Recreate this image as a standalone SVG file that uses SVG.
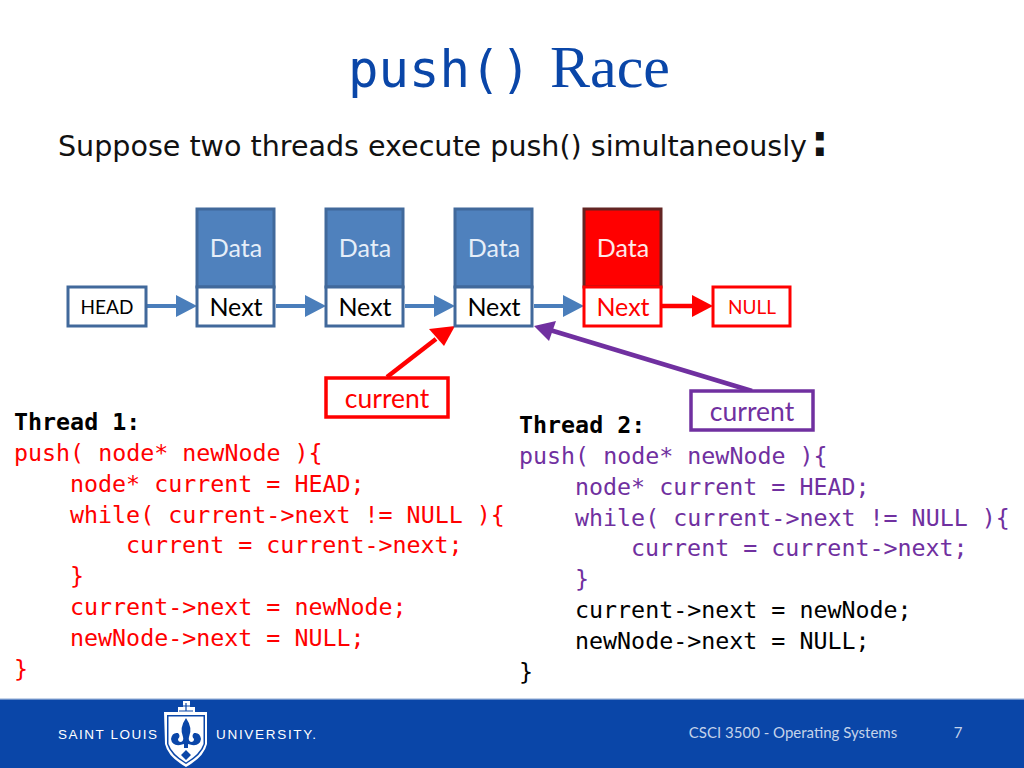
<svg xmlns="http://www.w3.org/2000/svg" width="1024" height="768" viewBox="0 0 1024 768">
<style>
.c{font-family:Lato,"Open Sans",sans-serif;text-anchor:middle}
.d{font-size:25px;fill:#e6eef8}
.n{font-size:25px;fill:#000}
.code{font-family:"DejaVu Sans Mono","Liberation Mono",monospace;font-size:23.3px}
.bl{fill:#4f81bd;stroke:#41699b;stroke-width:3}
.wh{fill:#fff;stroke:#41699b;stroke-width:3}
.re{fill:#fff;stroke:#f00;stroke-width:3}
.lb{stroke:#4a7ebb;stroke-width:4;fill:none}
</style>
<rect width="1024" height="768" fill="#fff"/>
<text x="348" y="87" font-family="'DejaVu Sans Mono',monospace" font-size="51" fill="#0a46a8" textLength="183" lengthAdjust="spacingAndGlyphs">push()</text>
<text x="550" y="87" font-family="'Liberation Serif',serif" font-size="60" fill="#0a46a8">Race</text>
<text x="58" y="156" font-family="'DejaVu Sans',sans-serif" font-size="28" fill="#111" textLength="749" lengthAdjust="spacingAndGlyphs">Suppose two threads execute push() simultaneously</text>
<text x="811" y="156" font-family="'DejaVu Sans',sans-serif" font-size="44" font-weight="bold" fill="#111">:</text>
<g id="connectors">
<path class="lb" d="M147 306H178M276 306H307M405 306H436M534 306H565"/>
<path fill="#4a7ebb" d="M176 295L197 306L176 317ZM305 295L326 306L305 317ZM434 295L455 306L434 317ZM563 295L584 306L563 317Z"/>
<path d="M662 306H694" stroke="#f00" stroke-width="4.5"/>
<path fill="#f00" d="M692 295L713 306L692 317Z"/>
<path d="M387 377L436 339" stroke="#f00" stroke-width="4.5"/>
<path fill="#f00" d="M455 326L444 346L429 329Z"/>
<path d="M752 391L550 330" stroke="#7030a0" stroke-width="4.5"/>
<path fill="#7030a0" d="M534 326L556 321L549 341Z"/>
</g>
<g id="head"><rect class="wh" x="68" y="287" width="78" height="39"/><text class="c" x="107" y="314" font-size="19" fill="#000">HEAD</text></g>
<g id="node1"><rect class="bl" x="197" y="209" width="77" height="78"/><rect class="wh" x="197" y="287" width="77" height="39"/><text class="c d" x="236" y="257">Data</text><text class="c n" x="236" y="316">Next</text></g>
<g id="node2"><rect class="bl" x="326" y="209" width="77" height="78"/><rect class="wh" x="326" y="287" width="77" height="39"/><text class="c d" x="365" y="257">Data</text><text class="c n" x="365" y="316">Next</text></g>
<g id="node3"><rect class="bl" x="455" y="209" width="77" height="78"/><rect class="wh" x="455" y="287" width="77" height="39"/><text class="c d" x="494" y="257">Data</text><text class="c n" x="494" y="316">Next</text></g>
<g id="node4"><rect x="584" y="209" width="77" height="78" fill="#f00" stroke="#632523" stroke-width="3"/><rect class="re" x="584" y="287" width="77" height="39"/><text class="c d" x="623" y="257" style="fill:#fde9e9">Data</text><text class="c n" x="623" y="316" style="fill:#f00">Next</text></g>
<g id="null"><rect class="re" x="713" y="287" width="77" height="39"/><text class="c" x="752" y="314" font-size="19" fill="#f00">NULL</text></g>
<g id="current1"><rect x="326" y="378" width="122" height="39" fill="#fff" stroke="#f00" stroke-width="3.5"/><text class="c" x="387" y="408" font-size="26.5" fill="#f00">current</text></g>
<g id="current2"><rect x="691" y="391" width="122" height="39" fill="#fff" stroke="#7030a0" stroke-width="3.5"/><text class="c" x="752" y="421" font-size="26.5" fill="#7030a0">current</text></g>
<g id="thread1" class="code" fill="#f00">
<text x="14" y="430" fill="#000" font-weight="bold">Thread 1:</text>
<text x="14" y="461">push( node* newNode ){</text>
<text x="70" y="492">node* current = HEAD;</text>
<text x="70" y="523">while( current-&gt;next != NULL ){</text>
<text x="126" y="553">current = current-&gt;next;</text>
<text x="70" y="584">}</text>
<text x="70" y="615">current-&gt;next = newNode;</text>
<text x="70" y="646">newNode-&gt;next = NULL;</text>
<text x="14" y="677">}</text>
</g>
<g id="thread2" class="code">
<text x="519" y="433" fill="#000" font-weight="bold">Thread 2:</text>
<text x="519" y="464" fill="#7030a0">push( node* newNode ){</text>
<text x="575" y="495" fill="#7030a0">node* current = HEAD;</text>
<text x="575" y="526" fill="#7030a0">while( current-&gt;next != NULL ){</text>
<text x="631" y="556" fill="#7030a0">current = current-&gt;next;</text>
<text x="575" y="587" fill="#7030a0">}</text>
<text x="575" y="618" fill="#000">current-&gt;next = newNode;</text>
<text x="575" y="649" fill="#000">newNode-&gt;next = NULL;</text>
<text x="519" y="680" fill="#000">}</text>
</g>
<g id="footer">
<rect y="699" width="1024" height="69" fill="#0a46a8"/>
<rect y="698" width="1024" height="1.5" fill="#c5d3e8"/>
<text x="58" y="739" font-family="'Liberation Sans',sans-serif" font-size="13.5" fill="#fff" textLength="99">SAINT LOUIS</text>
<text x="216" y="739" font-family="'Liberation Sans',sans-serif" font-size="13.5" fill="#fff" textLength="100">UNIVERSITY.</text>
<path d="M164 712H178V707H183V701H190V707H195V712H207V744Q204 757 186 767Q168 757 165 744Z" fill="#fff"/>
<path d="M167 715H205V744Q202 755 186 764Q170 755 167 744Z" fill="#0a46a8"/>
<path d="M168.500 716.500H203.500V744Q200 754 186 762.500Q172 754 168.500 744Z" fill="#fff"/>
<path d="M186 718Q179 728 183 737Q184 741 181 742Q178 742 178 739Q181 736 178 733Q172 732 171 739Q172 746 180 745L184 744V748H188V744L192 745Q200 746 201 739Q200 732 194 733Q191 736 194 739Q194 742 191 742Q188 741 189 737Q193 728 186 718ZM186 750L181 755L186 760L191 755Z" fill="#0a46a8"/>
<path d="M186 703V711M182 706H190M179 711H193" stroke="#0a46a8" stroke-width="1.2" fill="none"/>
<text x="793" y="738" class="c" font-size="15" fill="#c4d3ea">CSCI 3500 - Operating Systems</text>
<text x="958" y="738" class="c" font-size="15" fill="#c4d3ea">7</text>
</g>
</svg>
